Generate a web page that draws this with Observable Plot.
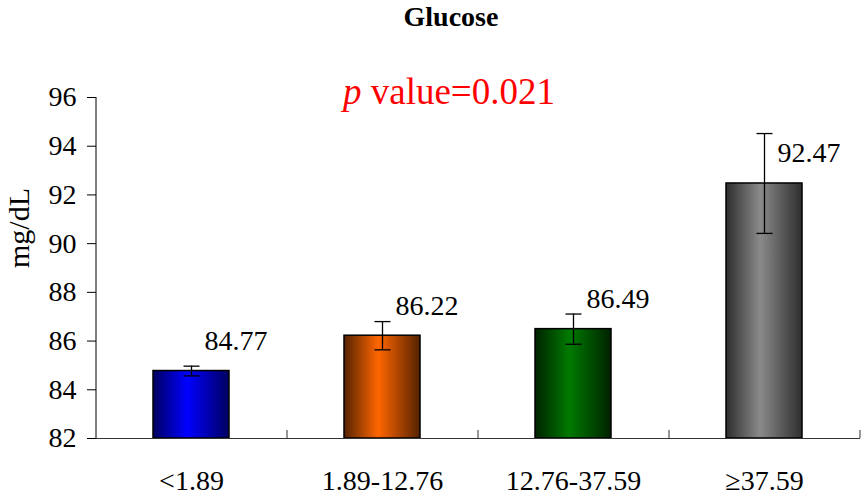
<!DOCTYPE html>
<html>
<head>
<meta charset="utf-8">
<script src="https://cdn.jsdelivr.net/npm/d3@7"></script>
<script src="https://cdn.jsdelivr.net/npm/@observablehq/plot@0.6"></script>
</head>
<body style="margin:0;padding:0;background:#fff">
<svg width="0" height="0" style="position:absolute">
  <defs>
    <linearGradient id="g0" x1="0" x2="1" y1="0" y2="0">
      <stop offset="0" stop-color="#000060"/><stop offset="0.45" stop-color="#0000ff"/><stop offset="1" stop-color="#000060"/>
    </linearGradient>
    <linearGradient id="g1" x1="0" x2="1" y1="0" y2="0">
      <stop offset="0" stop-color="#552200"/><stop offset="0.45" stop-color="#ff6600"/><stop offset="1" stop-color="#552200"/>
    </linearGradient>
    <linearGradient id="g2" x1="0" x2="1" y1="0" y2="0">
      <stop offset="0" stop-color="#002200"/><stop offset="0.45" stop-color="#007a00"/><stop offset="1" stop-color="#002200"/>
    </linearGradient>
    <linearGradient id="g3" x1="0" x2="1" y1="0" y2="0">
      <stop offset="0" stop-color="#2e2e2e"/><stop offset="0.45" stop-color="#8a8a8a"/><stop offset="1" stop-color="#2e2e2e"/>
    </linearGradient>
  </defs>
</svg>
<div id="wrap" style="position:relative;width:865px;height:497px;font-family:'Liberation Serif',serif">
  <div style="position:absolute;left:0;width:902px;top:1px;text-align:center;font-weight:bold;font-size:28px;font-family:'Liberation Serif',serif">Glucose</div>
  <div style="position:absolute;left:0;width:898px;top:70px;text-align:center;font-size:37px;color:#ff0000;font-family:'Liberation Serif',serif"><i>p</i> value=0.021</div>
  <div id="chart"></div>
</div>
<script>
const categories = ["<1.89", "1.89-12.76", "12.76-37.59", "\u226537.59"];
const means = [84.77, 86.22, 86.49, 92.47];
const errors = [0.2, 0.58, 0.62, 2.05];
const labels = ["84.77", "86.22", "86.49", "92.47"];
const fills = ["url(#g0)", "url(#g1)", "url(#g2)", "url(#g3)"];
const yTicks = [82, 84, 86, 88, 90, 92, 94, 96];

const data = categories.map((c, i) => ({cat: c, mean: means[i], err: errors[i], label: labels[i], fill: fills[i]}));

const capSymbol = {
  draw(ctx, size) {
    const r = Math.sqrt(size / Math.PI);
    ctx.moveTo(-r, 0);
    ctx.lineTo(r, 0);
  }
};
const FF = "Liberation Serif";

const plot = Plot.plot({
  width: 865,
  height: 497,
  marginTop: 97,
  marginBottom: 59,
  marginLeft: 96,
  marginRight: 5,
  style: "font-family:'Liberation Serif',serif;font-size:28px;color:#000;background:transparent;overflow:visible",
  x: {domain: categories, paddingInner: 0.6, paddingOuter: 0.3, label: null},
  y: {domain: [82, 96], ticks: yTicks, label: null},
  marks: [
    Plot.barY(data, {x: "cat", y1: 82, y2: "mean", fill: d => d.fill, stroke: "#000", strokeWidth: 1.5}),
    Plot.ruleX(data, {x: "cat", y1: d => d.mean - d.err, y2: d => d.mean + d.err, stroke: "#000", strokeWidth: 1.3}),
    Plot.dot(data, {x: "cat", y: d => d.mean + d.err, symbol: capSymbol, r: 8, stroke: "#000", strokeWidth: 1.3, fill: "none"}),
    Plot.dot(data, {x: "cat", y: d => d.mean - d.err, symbol: capSymbol, r: 8, stroke: "#000", strokeWidth: 1.3, fill: "none"}),
    Plot.text(data, {x: "cat", y: "mean", text: "label", dx: 13, dy: -30, textAnchor: "start", fontSize: 28, fontFamily: FF, fill: "#000"}),
    Plot.axisY({ticks: yTicks, tickSize: 9, tickPadding: 11, fontSize: 28, fontFamily: FF, label: null}),
    Plot.axisX({tickSize: 0, tickPadding: 32, fontSize: 28, fontFamily: FF, label: null}),
    Plot.ruleY([82], {stroke: "#333"}),
    Plot.ruleX(categories, {x: d => d, dx: 95.5, y1: 82, y2: 82.33, stroke: "#333"}),
    Plot.ruleX([categories[0]], {x: d => d, dx: -95.5, y1: 82, y2: 96, stroke: "#000"}),
    Plot.text(["mg/dL"], {text: d => d, frameAnchor: "left", dx: -77, rotate: -90, fontSize: 30, fontFamily: FF, fill: "#000"})
  ]
});
document.getElementById("chart").appendChild(plot);
</script>
</body>
</html>
